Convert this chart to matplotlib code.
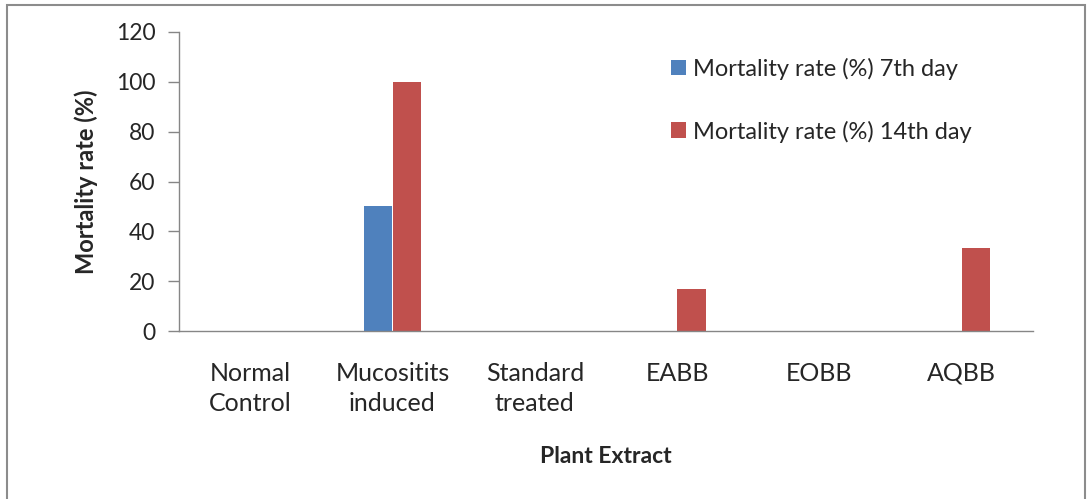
import matplotlib.pyplot as plt
import numpy as np
from matplotlib.patches import Rectangle

plt.rcParams['font.family'] = ['Lato', 'DejaVu Sans']

groups = ["Normal\nControl", "Mucositits\ninduced", "Standard\ntreated", "EABB", "EOBB", "AQBB"]
day7 = [0, 50, 0, 0, 0, 0]
day14 = [0, 100, 0, 16.67, 0, 33.33]
yticks = [0, 20, 40, 60, 80, 100, 120]

blue = "#4F81BD"
red = "#C0504D"
axis_grey = "#868686"
text_col = "#262626"

fig = plt.figure(figsize=(10.91, 4.99), dpi=100)
W, H = 1091, 499
ax = fig.add_axes([179 / W, 1 - 331 / H, (1033 - 179) / W, (331 - 32) / H])

x = np.arange(len(groups))
width = 0.2
ax.bar(x - width / 2, day7, width, color=blue, label="Mortality rate (%) 7th day")
ax.bar(x + width / 2, day14, width, color=red, label="Mortality rate (%) 14th day")

ax.set_xlim(-0.5, len(groups) - 0.5)
ax.set_ylim(0, 120)
ax.set_yticks(yticks)
ax.set_xticks(x)
ax.set_xticklabels(groups, fontsize=18, color=text_col, linespacing=1.4)
ax.tick_params(axis="x", length=0, pad=22)
ax.tick_params(axis="y", length=8, width=1, color=axis_grey, labelsize=16.5,
               labelcolor=text_col, pad=9)

for side in ["top", "right"]:
    ax.spines[side].set_visible(False)
for side in ["left", "bottom"]:
    ax.spines[side].set_color(axis_grey)
    ax.spines[side].set_linewidth(1)

ax.set_ylabel("Mortality rate (%)", fontsize=17, fontweight="bold", color=text_col, labelpad=13)
ax.set_xlabel("Plant Extract", fontsize=16.5, fontweight="bold", color=text_col, labelpad=22)

ax.legend(loc="upper left", bbox_to_anchor=(0.551, 0.985), frameon=False, fontsize=17,
          handlelength=0.65, handleheight=0.65, handletextpad=0.3, labelspacing=1.72,
          labelcolor=text_col)

# outer border of the chart area
fig.patches.append(Rectangle((7 / W, -0.05), (1085 - 7) / W, 1.05 - 5 / H,
                             transform=fig.transFigure, fill=False,
                             edgecolor="#8c8c8c", linewidth=1.5))

fig.savefig("out.png", dpi=100)
